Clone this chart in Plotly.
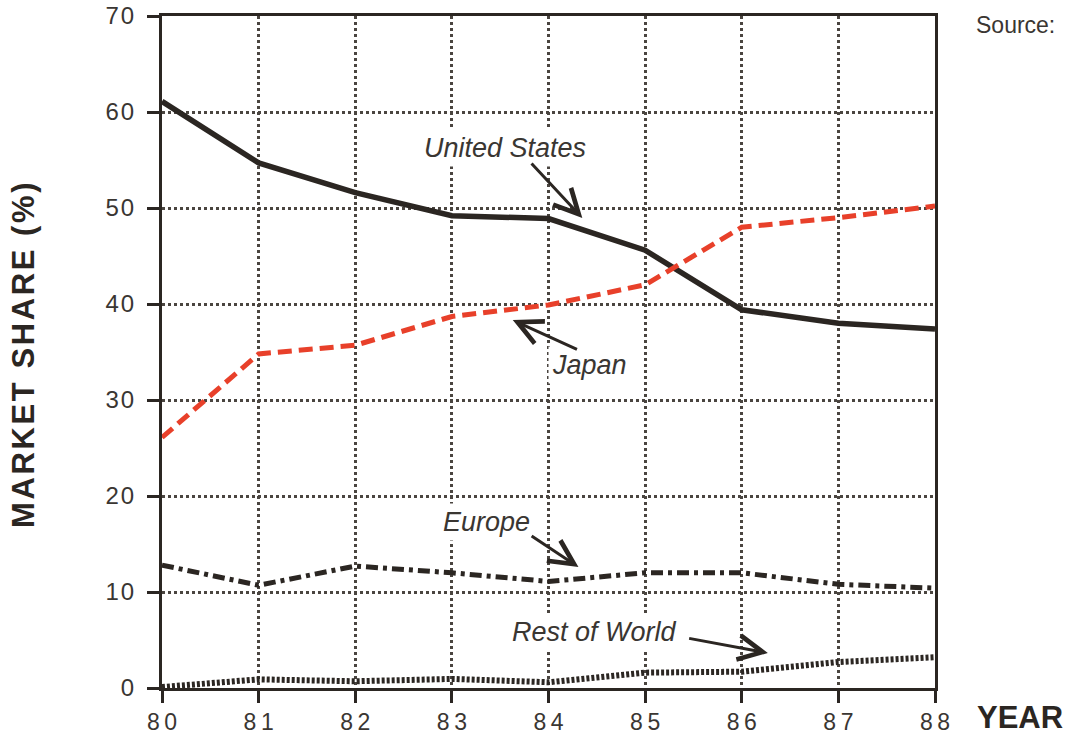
import plotly.graph_objects as go

years = [80, 81, 82, 83, 84, 85, 86, 87, 88]
united_states = [61.1, 54.7, 51.6, 49.2, 48.9, 45.6, 39.4, 38.0, 37.4]
japan = [26.1, 34.8, 35.7, 38.7, 39.9, 42.0, 48.0, 49.0, 50.2]
europe = [12.8, 10.7, 12.7, 12.0, 11.1, 12.0, 12.0, 10.8, 10.4]
rest_of_world = [0.1, 0.9, 0.7, 0.95, 0.6, 1.6, 1.7, 2.7, 3.2]

x_tick_vals = [80, 81, 82, 83, 84, 85, 86, 87, 88]
x_tick_labels = ["80", "81", "82", "83", "84", "85", "86", "87", "88"]
y_tick_vals = [0, 10, 20, 30, 40, 50, 60, 70]
y_tick_labels = ["0", "10", "20", "30", "40", "50", "60", "70"]

INK = "#2b2622"
TXT = "#3a3632"
FONT = "Liberation Sans, Arial, Helvetica, sans-serif"
HS = "\u200a"  # hair space
TS = "\u2009"  # thin space


def spaced(s, sep=HS):
    return sep.join(list(s))


fig = go.Figure()
fig.add_trace(go.Scatter(x=years, y=united_states, mode="lines", name="United States",
                         line=dict(color=INK, width=5.5), cliponaxis=False))
fig.add_trace(go.Scatter(x=years, y=japan, mode="lines", name="Japan",
                         line=dict(color="#e8402a", width=5, dash="14px,7px"), cliponaxis=False))
fig.add_trace(go.Scatter(x=years, y=europe, mode="lines", name="Europe",
                         line=dict(color=INK, width=5, dash="12px,5px,4px,5px"), cliponaxis=False))
fig.add_trace(go.Scatter(x=years, y=rest_of_world, mode="lines", name="Rest of World",
                         line=dict(color=INK, width=6, dash="3px,2px"), cliponaxis=False))

labels = [
    ("United States", 83.55, 56.3),
    ("Japan", 84.42, 33.6),
    ("Europe", 83.36, 17.3),
    ("Rest of World", 84.48, 5.8),
]
arrows = [
    (84.35, 48.96, 83.81, 54.79),
    (83.63, 38.33, 84.31, 35.2),
    (84.31, 12.6, 83.81, 15.94),
    (86.27, 3.65, 85.44, 5.2),
]

annotations = []
for text, x, y in labels:
    annotations.append(dict(x=x, y=y, xref="x", yref="y", text="<i>" + text + "</i>",
                            showarrow=False, xanchor="center", yanchor="middle", bgcolor="white",
                            font=dict(family=FONT, size=27, color=TXT), borderpad=3))
for hx, hy, tx, ty in arrows:
    annotations.append(dict(x=hx, y=hy, ax=tx, ay=ty, xref="x", yref="y", axref="x", ayref="y",
                            text="", showarrow=True, arrowhead=5, arrowsize=1.6,
                            arrowwidth=3, arrowcolor=INK))

annotations.append(dict(x=-0.180, y=0.4955, xref="paper", yref="paper",
                        text="<b>" + spaced("MARKET SHARE (%)", HS) + "</b>", textangle=-90,
                        showarrow=False, xanchor="center", yanchor="middle",
                        font=dict(family=FONT, size=31, color=INK)))
annotations.append(dict(x=1.110, y=-0.0446, xref="paper", yref="paper",
                        text="<b>YEAR</b>", showarrow=False, xanchor="center", yanchor="middle",
                        font=dict(family=FONT, size=31, color=INK)))
annotations.append(dict(x=1.1035, y=0.986, xref="paper", yref="paper",
                        text="Source:", showarrow=False, xanchor="center", yanchor="middle",
                        font=dict(family=FONT, size=23, color=TXT)))

fig.update_layout(
    width=1069, height=739,
    margin=dict(l=162, r=134, t=16, b=51, autoexpand=False),
    paper_bgcolor="white", plot_bgcolor="white",
    showlegend=False,
    annotations=annotations,
    font=dict(family=FONT, color=TXT),
)
common = dict(showgrid=True, gridcolor="#4a4540", gridwidth=2.5, griddash="dot",
              showline=True, linecolor=INK, linewidth=3, mirror=True,
              ticks="outside", ticklen=12, tickwidth=3, tickcolor=INK,
              zeroline=False, automargin=False)
fig.update_xaxes(range=[80, 88], tickvals=x_tick_vals,
                 ticktext=[spaced(t, TS) for t in x_tick_labels],
                 tickfont=dict(family=FONT, size=23, color=TXT), ticklabelstandoff=-1, **common)
fig.update_yaxes(range=[0, 70], tickvals=y_tick_vals,
                 ticktext=[spaced(t, HS) for t in y_tick_labels],
                 tickfont=dict(family=FONT, size=24, color=TXT), ticklabelstandoff=8, **common)

fig.write_html(
    "out.html",
    config={"displayModeBar": False},
    post_script="document.body.style.margin='0';document.body.style.overflow='hidden';",
)
